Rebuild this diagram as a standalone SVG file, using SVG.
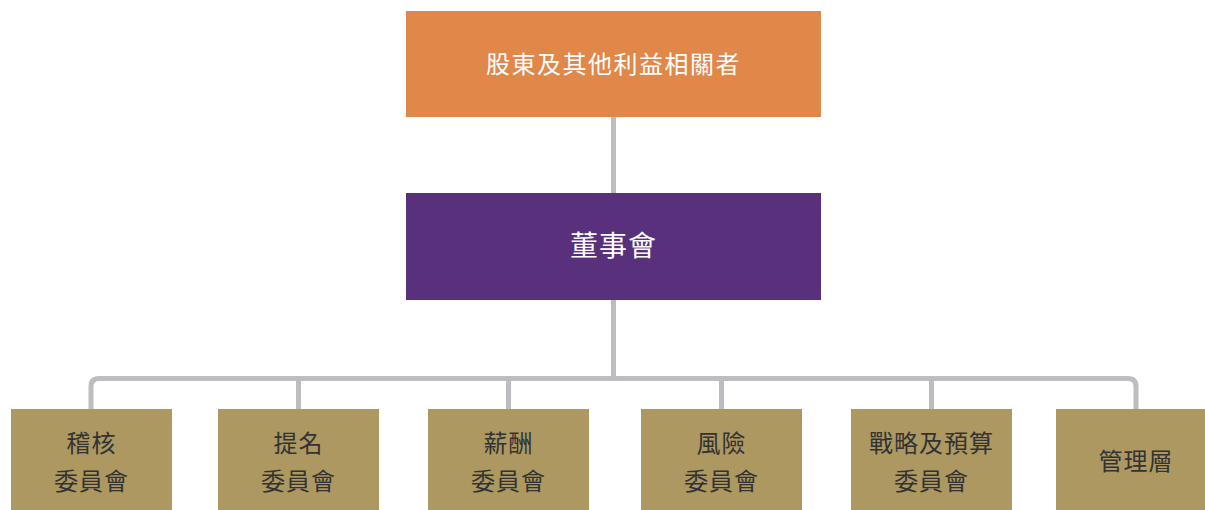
<svg xmlns="http://www.w3.org/2000/svg" width="1205" height="510" viewBox="0 0 1205 510">
<style>
.t{font-family:"Noto Sans CJK TC","Noto Sans CJK SC",sans-serif;text-anchor:middle;dominant-baseline:central}
.w{fill:#ffffff}
.d{fill:#333333;font-size:24px;letter-spacing:1px}
.c{fill:none;stroke:#BDBDC1;stroke-width:5}
.g{fill:#AD9862}
</style>
<rect width="1205" height="510" fill="#ffffff"/>
<g id="connectors">
<line class="c" x1="613.5" y1="117" x2="613.5" y2="193"/>
<line class="c" x1="613.5" y1="300" x2="613.5" y2="378.5"/>
<path class="c" d="M91 409 V386.5 Q91 378.5 99 378.5 H1128 Q1136 378.5 1136 386.5 V409"/>
<line class="c" x1="298.5" y1="378.5" x2="298.5" y2="409"/>
<line class="c" x1="508.5" y1="378.5" x2="508.5" y2="409"/>
<line class="c" x1="721.5" y1="378.5" x2="721.5" y2="409"/>
<line class="c" x1="931.5" y1="378.5" x2="931.5" y2="409"/>
</g>
<g id="stakeholders">
<rect x="406" y="11" width="415" height="106" fill="#E0874A"/>
<text class="t w" x="613.5" y="62" font-size="24" letter-spacing="1.5">股東及其他利益相關者</text>
</g>
<g id="board">
<rect x="406" y="193" width="415" height="107" fill="#59307C"/>
<text class="t w" x="613.5" y="244" font-size="28" letter-spacing="1">董事會</text>
</g>
<g id="audit">
<rect class="g" x="11" y="409" width="161" height="101"/>
<text class="t d" x="91.5" y="441.5">稽核</text>
<text class="t d" x="91.5" y="479">委員會</text>
</g>
<g id="nomination">
<rect class="g" x="218" y="409" width="161" height="101"/>
<text class="t d" x="298.5" y="441.5">提名</text>
<text class="t d" x="298.5" y="479">委員會</text>
</g>
<g id="remuneration">
<rect class="g" x="428" y="409" width="161" height="101"/>
<text class="t d" x="508.5" y="441.5">薪酬</text>
<text class="t d" x="508.5" y="479">委員會</text>
</g>
<g id="risk">
<rect class="g" x="641" y="409" width="161" height="101"/>
<text class="t d" x="721.5" y="441.5">風險</text>
<text class="t d" x="721.5" y="479">委員會</text>
</g>
<g id="strategy">
<rect class="g" x="851" y="409" width="161" height="101"/>
<text class="t d" x="931.5" y="441.5">戰略及預算</text>
<text class="t d" x="931.5" y="479">委員會</text>
</g>
<g id="management">
<rect class="g" x="1056" y="409" width="149" height="101"/>
<text class="t d" x="1136" y="459.5">管理層</text>
</g>
</svg>
